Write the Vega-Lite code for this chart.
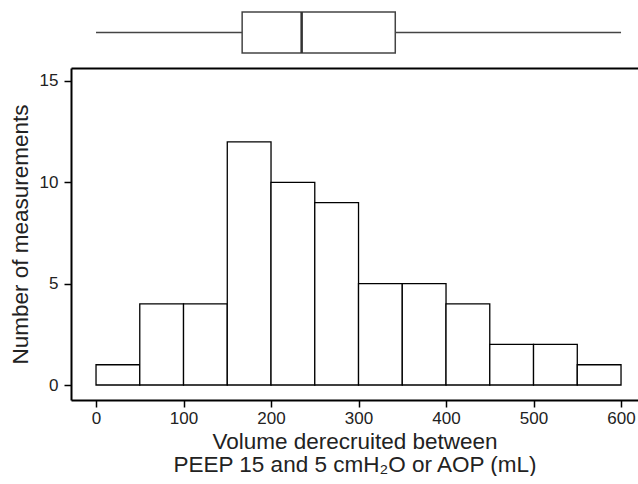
{
  "$schema": "https://vega.github.io/schema/vega-lite/v6.json",
  "padding": {"left": 9, "top": 10, "right": 0, "bottom": 0},
  "background": "white",
  "config": {
    "view": {"stroke": null},
    "font": "Liberation Sans",
    "axis": {
      "grid": false,
      "domainColor": "black",
      "domainWidth": 2,
      "tickColor": "black",
      "tickWidth": 1.5,
      "tickSize": 7,
      "labelFont": "Liberation Sans",
      "labelFontSize": 17,
      "labelColor": "#222",
      "labelPadding": 3,
      "titleFont": "Liberation Sans",
      "titleFontSize": 22.5,
      "titleFontWeight": "normal",
      "titleColor": "#222"
    }
  },
  "spacing": 13,
  "resolve": {"scale": {"x": "independent"}},
  "vconcat": [
    {
      "width": 567,
      "height": 41,
      "data": {"values": [{"min": 0, "q1": 167, "median": 235, "q3": 342, "max": 600}]},
      "layer": [
        {
          "mark": {"type": "rule", "stroke": "#444", "strokeWidth": 1.5},
          "encoding": {
            "x": {"field": "min", "type": "quantitative", "scale": {"domain": [-28.6, 619.4], "nice": false, "zero": false}, "axis": null},
            "x2": {"field": "q1"},
            "y": {"datum": 0.5, "type": "quantitative", "scale": {"domain": [0, 1], "nice": false}, "axis": null}
          }
        },
        {
          "mark": {"type": "rule", "stroke": "#444", "strokeWidth": 1.5},
          "encoding": {
            "x": {"field": "q3", "type": "quantitative"},
            "x2": {"field": "max"},
            "y": {"datum": 0.5, "type": "quantitative"}
          }
        },
        {
          "mark": {"type": "bar", "fill": "white", "stroke": "#444", "strokeWidth": 1.5},
          "encoding": {
            "x": {"field": "q1", "type": "quantitative"},
            "x2": {"field": "q3"},
            "y": {"datum": 0, "type": "quantitative"},
            "y2": {"datum": 1}
          }
        },
        {
          "mark": {"type": "rule", "stroke": "#333", "strokeWidth": 2.5},
          "encoding": {
            "x": {"field": "median", "type": "quantitative"},
            "y": {"datum": 0, "type": "quantitative"},
            "y2": {"datum": 1}
          }
        }
      ]
    },
    {
      "width": 567,
      "height": 332,
      "data": {"values": [
        {"bin_start": 0, "bin_end": 50, "count": 1},
        {"bin_start": 50, "bin_end": 100, "count": 4},
        {"bin_start": 100, "bin_end": 150, "count": 4},
        {"bin_start": 150, "bin_end": 200, "count": 12},
        {"bin_start": 200, "bin_end": 250, "count": 10},
        {"bin_start": 250, "bin_end": 300, "count": 9},
        {"bin_start": 300, "bin_end": 350, "count": 5},
        {"bin_start": 350, "bin_end": 400, "count": 5},
        {"bin_start": 400, "bin_end": 450, "count": 4},
        {"bin_start": 450, "bin_end": 500, "count": 2},
        {"bin_start": 500, "bin_end": 550, "count": 2},
        {"bin_start": 550, "bin_end": 600, "count": 1}
      ]},
      "resolve": {"axis": {"x": "independent"}},
      "layer": [
        {
          "mark": {"type": "bar", "fill": "white", "stroke": "black", "strokeWidth": 1.3},
          "encoding": {
            "x": {
              "field": "bin_start", "type": "quantitative",
              "scale": {"domain": [-28.6, 619.4], "nice": false, "zero": false},
              "axis": {"orient": "bottom", "values": [0, 100, 200, 300, 400, 500, 600], "titlePadding": 4, "titleLineHeight": 23,
                       "title": ["Volume derecruited between", "PEEP 15 and 5 cmH₂O or AOP (mL)"]}
            },
            "x2": {"field": "bin_end"},
            "y": {
              "field": "count", "type": "quantitative",
              "scale": {"domain": [-0.74, 15.64], "nice": false, "zero": false},
              "axis": {"values": [0, 5, 10, 15], "title": "Number of measurements", "titlePadding": 7, "labelPadding": 6}
            },
            "y2": {"datum": 0}
          }
        },
        {
          "mark": {"type": "bar", "opacity": 0},
          "encoding": {
            "x": {"field": "bin_start", "type": "quantitative",
                  "axis": {"orient": "top", "labels": false, "ticks": false, "title": null}},
            "x2": {"field": "bin_end"},
            "y": {"field": "count", "type": "quantitative"},
            "y2": {"datum": 0}
          }
        }
      ]
    }
  ]
}
